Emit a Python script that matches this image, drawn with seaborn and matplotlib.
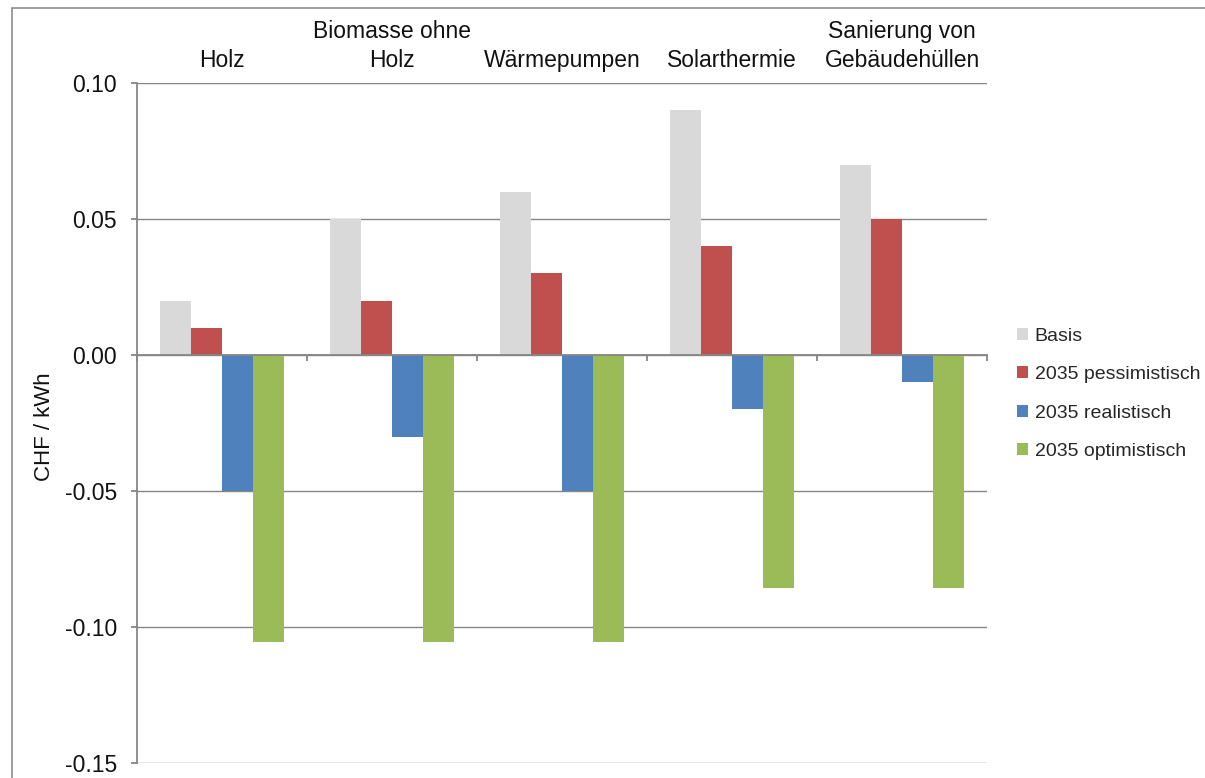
import matplotlib
matplotlib.use("Agg")
import matplotlib.pyplot as plt
import matplotlib.patches as mpatches
from matplotlib.ticker import FixedLocator, FormatStrFormatter
import pandas as pd
import seaborn as sns

# Heat-related cost differences per technology and scenario (CHF / kWh)
categories = ["Holz", "Biomasse ohne\nHolz", "Wärmepumpen", "Solarthermie",
              "Sanierung von\nGebäudehüllen"]
series = ["Basis", "2035 pessimistisch", "2035 realistisch", "2035 optimistisch"]
basis = [0.02, 0.05, 0.06, 0.09, 0.07]
pessimistisch = [0.01, 0.02, 0.03, 0.04, 0.05]
realistisch = [-0.05, -0.03, -0.05, -0.02, -0.01]
optimistisch = [-0.1055, -0.1055, -0.1055, -0.0857, -0.0857]
colors = ["#D9D9D9", "#C0504D", "#4F81BD", "#9BBB59"]
yticks = [-0.15, -0.10, -0.05, 0.00, 0.05, 0.10]

values = {series[0]: basis, series[1]: pessimistisch,
          series[2]: realistisch, series[3]: optimistisch}
df = pd.DataFrame([
    {"Kategorie": c, "Szenario": s, "Wert": v}
    for s in series for c, v in zip(categories, values[s])
])

sns.set_theme(style="white")
plt.rcParams["font.family"] = ["Liberation Sans", "DejaVu Sans"]

fig = plt.figure(figsize=(12.05, 7.78), dpi=100)
ax = fig.add_axes([137 / 1205, 15 / 778, 850 / 1205, 680 / 778])

sns.barplot(data=df, x="Kategorie", y="Wert", hue="Szenario",
            order=categories, hue_order=series, palette=colors,
            saturation=1, width=0.735, linewidth=0, ax=ax, legend=False)

grid_c = "#868686"
text_c = "#111111"
ax.set_ylim(-0.15, 0.10)
ax.set_xlim(-0.5, len(categories) - 0.5)
ax.yaxis.set_major_locator(FixedLocator(yticks))
ax.yaxis.set_major_formatter(FormatStrFormatter("%.2f"))
ax.grid(axis="y", color=grid_c, linewidth=1)
ax.set_axisbelow(True)

for side in ["top", "right"]:
    ax.spines[side].set_visible(False)
ax.spines["left"].set_color(grid_c)
ax.spines["left"].set_linewidth(1.3)
ax.spines["bottom"].set_position(("data", 0))
ax.spines["bottom"].set_color(grid_c)
ax.spines["bottom"].set_linewidth(1.3)

# Category names above the plot, separator ticks on the zero line
ax.set_xticks(range(len(categories)))
ax.set_xticklabels(categories, fontsize=16.5, color=text_c, linespacing=1.3)
ax.set_xticks([i - 0.5 for i in range(len(categories) + 1)], minor=True)
ax.tick_params(axis="x", which="major", bottom=False, top=False,
               labelbottom=False, labeltop=True, pad=2)
ax.tick_params(axis="x", which="minor", bottom=True, direction="out",
               length=4.5, width=1.3, color=grid_c)
ax.tick_params(axis="y", left=True, direction="out", length=4.5, width=1.3,
               color=grid_c, labelsize=16.5, labelcolor=text_c, pad=10)

ax.set_xlabel("")
ax.set_ylabel("CHF / kWh", fontsize=16, color=text_c)
ax.yaxis.set_label_coords(-0.097, 0.494)

handles = [mpatches.Patch(facecolor=c, edgecolor="none") for c in colors]
fig.legend(handles, series, loc="upper left",
           bbox_to_anchor=(1009 / 1205, 1 - 320 / 778), frameon=False,
           fontsize=14, handlelength=0.57, handleheight=0.57,
           handletextpad=0.36, labelspacing=1.1, borderaxespad=0)

fig.add_artist(mpatches.Rectangle((12 / 1205, -0.1), 1.5, 1 - 8 / 778 + 0.1,
                                  transform=fig.transFigure, fill=False,
                                  edgecolor="#8C8C8C", linewidth=1.2))

fig.savefig("out.png", dpi=100)
